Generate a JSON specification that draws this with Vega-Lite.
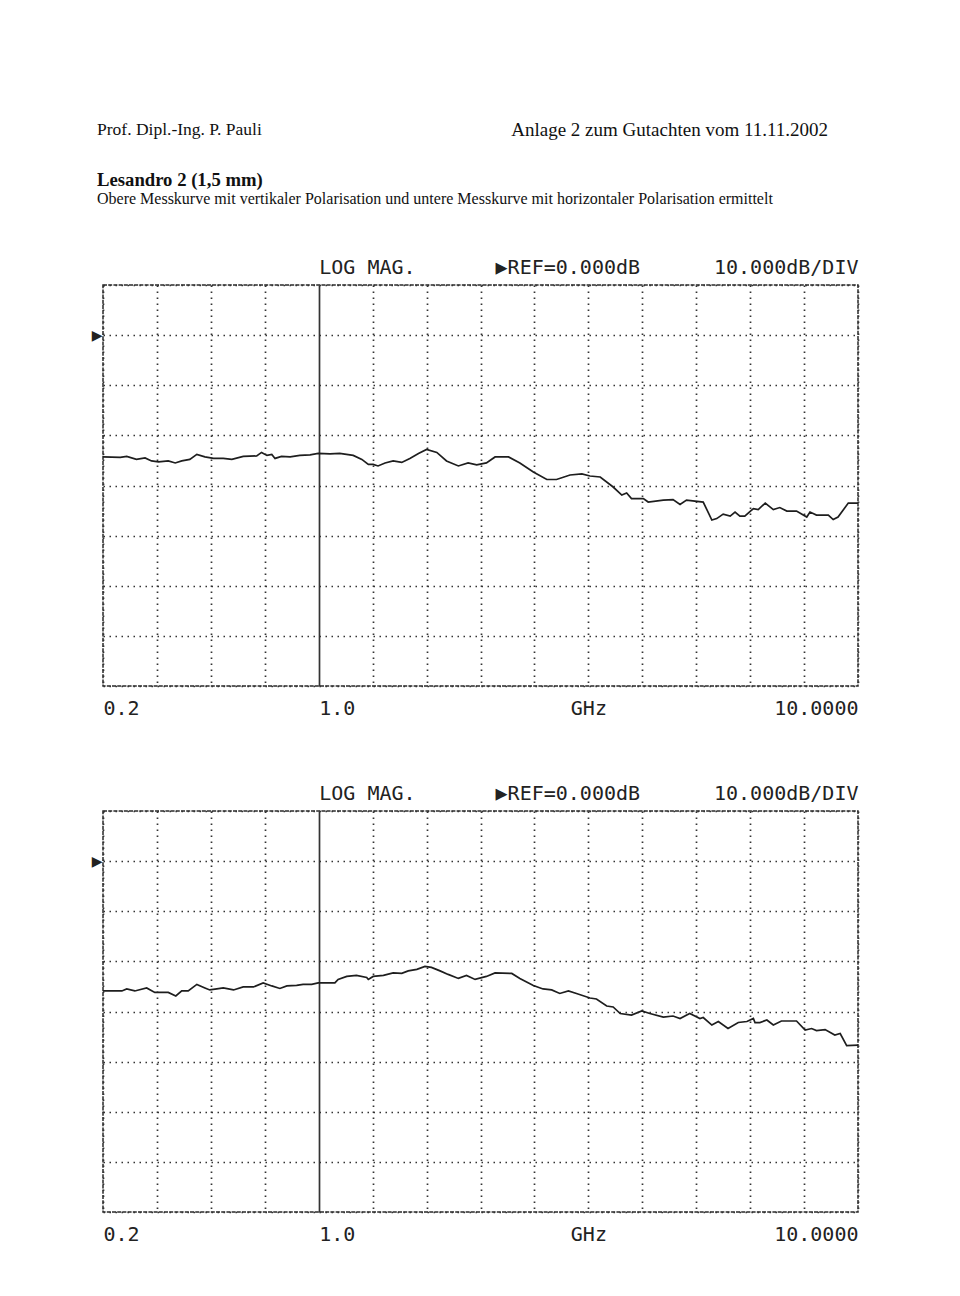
{
  "$schema": "https://vega.github.io/schema/vega-lite/v6.json",
  "background": "white",
  "padding": {"left": 90, "top": 121, "right": 0, "bottom": 0},
  "datasets": {
    "vert": [
      {"div": 0.0, "dB": -24.3}, {"div": 0.32, "dB": -24.4}, {"div": 0.44, "dB": -24.2}, {"div": 0.62, "dB": -24.8},
      {"div": 0.78, "dB": -24.5}, {"div": 0.9, "dB": -25.1}, {"div": 1.03, "dB": -25.3}, {"div": 1.21, "dB": -25.1},
      {"div": 1.34, "dB": -25.5}, {"div": 1.46, "dB": -25.1}, {"div": 1.61, "dB": -24.8}, {"div": 1.74, "dB": -23.8},
      {"div": 1.89, "dB": -24.3}, {"div": 2.05, "dB": -24.6}, {"div": 2.23, "dB": -24.6}, {"div": 2.39, "dB": -24.8},
      {"div": 2.6, "dB": -24.2}, {"div": 2.85, "dB": -24.1}, {"div": 2.94, "dB": -23.4}, {"div": 3.04, "dB": -24.0},
      {"div": 3.13, "dB": -23.8}, {"div": 3.19, "dB": -24.6}, {"div": 3.31, "dB": -24.2}, {"div": 3.47, "dB": -24.3},
      {"div": 3.65, "dB": -24.0}, {"div": 3.84, "dB": -23.9}, {"div": 3.99, "dB": -23.6}, {"div": 4.21, "dB": -23.7},
      {"div": 4.39, "dB": -23.6}, {"div": 4.64, "dB": -24.0}, {"div": 4.8, "dB": -24.8}, {"div": 4.92, "dB": -25.8},
      {"div": 5.01, "dB": -25.8}, {"div": 5.1, "dB": -26.1}, {"div": 5.23, "dB": -25.5}, {"div": 5.38, "dB": -25.1},
      {"div": 5.54, "dB": -25.4}, {"div": 5.69, "dB": -24.6}, {"div": 5.85, "dB": -23.6}, {"div": 6.0, "dB": -22.8},
      {"div": 6.19, "dB": -23.4}, {"div": 6.37, "dB": -25.1}, {"div": 6.59, "dB": -26.1}, {"div": 6.77, "dB": -25.5},
      {"div": 6.93, "dB": -25.9}, {"div": 7.11, "dB": -25.5}, {"div": 7.27, "dB": -24.3}, {"div": 7.52, "dB": -24.3},
      {"div": 7.73, "dB": -25.5}, {"div": 7.98, "dB": -27.3}, {"div": 8.23, "dB": -28.8}, {"div": 8.41, "dB": -28.8},
      {"div": 8.66, "dB": -27.9}, {"div": 8.88, "dB": -27.7}, {"div": 9.03, "dB": -28.1}, {"div": 9.22, "dB": -28.3},
      {"div": 9.46, "dB": -30.3}, {"div": 9.62, "dB": -31.9}, {"div": 9.71, "dB": -31.5}, {"div": 9.8, "dB": -32.6},
      {"div": 10.02, "dB": -32.6}, {"div": 10.11, "dB": -33.3}, {"div": 10.39, "dB": -32.9}, {"div": 10.57, "dB": -32.8},
      {"div": 10.7, "dB": -33.8}, {"div": 10.82, "dB": -32.9}, {"div": 11.13, "dB": -33.3}, {"div": 11.29, "dB": -36.9},
      {"div": 11.38, "dB": -36.6}, {"div": 11.5, "dB": -35.7}, {"div": 11.63, "dB": -36.1}, {"div": 11.72, "dB": -35.3},
      {"div": 11.81, "dB": -36.1}, {"div": 11.9, "dB": -36.1}, {"div": 12.06, "dB": -34.6}, {"div": 12.15, "dB": -34.8},
      {"div": 12.28, "dB": -33.5}, {"div": 12.43, "dB": -34.8}, {"div": 12.55, "dB": -34.4}, {"div": 12.68, "dB": -35.1},
      {"div": 12.86, "dB": -35.1}, {"div": 13.05, "dB": -36.3}, {"div": 13.11, "dB": -35.3}, {"div": 13.23, "dB": -35.9},
      {"div": 13.45, "dB": -35.9}, {"div": 13.54, "dB": -36.8}, {"div": 13.63, "dB": -36.3}, {"div": 13.82, "dB": -33.5},
      {"div": 14.0, "dB": -33.5}
    ],
    "horiz": [
      {"div": 0.0, "dB": -25.9}, {"div": 0.35, "dB": -25.9}, {"div": 0.44, "dB": -25.5}, {"div": 0.59, "dB": -25.9},
      {"div": 0.81, "dB": -25.3}, {"div": 0.96, "dB": -26.2}, {"div": 1.21, "dB": -26.2}, {"div": 1.35, "dB": -26.9},
      {"div": 1.46, "dB": -25.9}, {"div": 1.58, "dB": -25.9}, {"div": 1.74, "dB": -24.6}, {"div": 1.89, "dB": -25.3},
      {"div": 1.98, "dB": -25.7}, {"div": 2.11, "dB": -25.5}, {"div": 2.23, "dB": -25.3}, {"div": 2.42, "dB": -25.7},
      {"div": 2.6, "dB": -25.1}, {"div": 2.79, "dB": -25.1}, {"div": 2.97, "dB": -24.3}, {"div": 3.13, "dB": -24.9},
      {"div": 3.28, "dB": -25.4}, {"div": 3.41, "dB": -24.9}, {"div": 3.59, "dB": -24.8}, {"div": 3.71, "dB": -24.6},
      {"div": 3.87, "dB": -24.6}, {"div": 3.99, "dB": -24.3}, {"div": 4.3, "dB": -24.3}, {"div": 4.36, "dB": -23.6},
      {"div": 4.52, "dB": -23.0}, {"div": 4.7, "dB": -22.8}, {"div": 4.89, "dB": -23.2}, {"div": 4.92, "dB": -23.6},
      {"div": 5.01, "dB": -23.0}, {"div": 5.2, "dB": -22.8}, {"div": 5.38, "dB": -22.3}, {"div": 5.54, "dB": -22.4},
      {"div": 5.66, "dB": -21.9}, {"div": 5.82, "dB": -21.6}, {"div": 5.97, "dB": -21.0}, {"div": 6.09, "dB": -21.2},
      {"div": 6.25, "dB": -21.9}, {"div": 6.4, "dB": -22.6}, {"div": 6.59, "dB": -23.4}, {"div": 6.74, "dB": -22.8},
      {"div": 6.9, "dB": -23.6}, {"div": 7.11, "dB": -23.0}, {"div": 7.27, "dB": -22.3}, {"div": 7.58, "dB": -22.4},
      {"div": 7.73, "dB": -23.4}, {"div": 7.98, "dB": -24.8}, {"div": 8.16, "dB": -25.5}, {"div": 8.32, "dB": -25.7},
      {"div": 8.47, "dB": -26.4}, {"div": 8.63, "dB": -25.9}, {"div": 8.78, "dB": -26.4}, {"div": 9.03, "dB": -27.3},
      {"div": 9.15, "dB": -27.5}, {"div": 9.34, "dB": -28.9}, {"div": 9.46, "dB": -29.1}, {"div": 9.59, "dB": -30.4},
      {"div": 9.8, "dB": -30.7}, {"div": 9.99, "dB": -29.9}, {"div": 10.14, "dB": -30.4}, {"div": 10.39, "dB": -31.1},
      {"div": 10.57, "dB": -30.9}, {"div": 10.7, "dB": -31.4}, {"div": 10.88, "dB": -30.4}, {"div": 11.07, "dB": -31.4},
      {"div": 11.13, "dB": -31.2}, {"div": 11.29, "dB": -32.7}, {"div": 11.41, "dB": -32.0}, {"div": 11.59, "dB": -33.4},
      {"div": 11.78, "dB": -32.2}, {"div": 11.94, "dB": -32.0}, {"div": 12.06, "dB": -31.4}, {"div": 12.09, "dB": -32.2},
      {"div": 12.18, "dB": -32.2}, {"div": 12.31, "dB": -31.7}, {"div": 12.43, "dB": -32.7}, {"div": 12.58, "dB": -31.9},
      {"div": 12.86, "dB": -31.9}, {"div": 13.02, "dB": -33.7}, {"div": 13.14, "dB": -33.4}, {"div": 13.23, "dB": -33.8},
      {"div": 13.39, "dB": -33.6}, {"div": 13.57, "dB": -34.7}, {"div": 13.67, "dB": -34.4}, {"div": 13.79, "dB": -36.8},
      {"div": 14.0, "dB": -36.7}
    ]
  },
  "config": {
    "view": {"stroke": "#2a2a2a", "strokeWidth": 1.5, "strokeDash": [4, 1.2]},
    "axis": {"domain": false, "ticks": false, "title": null, "labelBound": false, "labelFlush": false, "labelOverlap": false}
  },
  "spacing": 30,
  "vconcat": [
    {
      "width": 731,
      "height": 16,
      "view": {"stroke": null},
      "data": {"values": [
        {"text": "Prof. Dipl.-Ing. P. Pauli", "side": "left"},
        {"text": "Anlage 2 zum Gutachten vom 11.11.2002", "side": "right"}
      ]},
      "mark": {"type": "text", "font": "Liberation Serif", "color": "#111", "baseline": "middle", "dx": -6,
        "fontSize": {"expr": "datum.side === 'right' ? 19 : 17.5"},
        "align": {"expr": "datum.side === 'right' ? 'right' : 'left'"}},
      "encoding": {
        "x": {"field": "side", "type": "nominal", "scale": {"type": "point", "domain": ["left", "right"], "padding": 0}, "axis": null},
        "text": {"field": "text"}
      }
    },
    {
      "spacing": 63,
      "vconcat": [
        {
          "width": 755,
          "height": 401,
          "title": {
            "text": "Lesandro 2 (1,5 mm)",
            "subtitle": "Obere Messkurve mit vertikaler Polarisation und untere Messkurve mit horizontaler Polarisation ermittelt",
            "anchor": "start", "frame": "group", "font": "Liberation Serif", "fontSize": 18.7, "fontWeight": "bold", "color": "#111",
            "subtitleFont": "Liberation Serif", "subtitleFontSize": 16, "subtitleColor": "#111", "subtitlePadding": 1,
            "dx": -6, "offset": 50
          },
          "data": {"name": "vert"},
          "layer": [
            {
              "mark": {"type": "line", "color": "#1e1e1e", "strokeWidth": 1.7},
              "encoding": {
                "x": {"field": "div", "type": "quantitative", "scale": {"domain": [0, 14], "nice": false, "zero": false},
                  "axis": {"orient": "bottom", "values": [0,1,2,3,4,5,6,7,8,9,10,11,12,13,14], "grid": true,
                    "gridColor": "#333", "gridWidth": 1.7, "gridOpacity": 1,
                    "gridDash": {"condition": {"test": "datum.value === 4", "value": []}, "value": [1.5, 4.5]},
                    "labelExpr": "datum.value === 0 ? '0.2' : datum.value === 4 ? '1.0' : datum.value === 9 ? 'GHz' : datum.value === 14 ? '10.0000' : ''",
                    "labelAlign": {"condition": [{"test": "datum.value === 14", "value": "right"}, {"test": "datum.value === 9", "value": "center"}], "value": "left"},
                    "labelFont": "DejaVu Sans Mono", "labelFontSize": 20, "labelColor": "#222", "labelPadding": 12, "labelBaseline": "top"}},
                "y": {"field": "dB", "type": "quantitative", "scale": {"domain": [-70, 10], "nice": false, "zero": false},
                  "axis": {"values": [-70,-60,-50,-40,-30,-20,-10,0,10], "grid": true,
                    "gridColor": "#333", "gridWidth": 1.7, "gridOpacity": 1, "gridDash": [1.5, 4.5],
                    "labelExpr": "datum.value === 0 ? '▶' : ''",
                    "labelFont": "DejaVu Sans", "labelFontSize": 14, "labelColor": "#222", "labelPadding": 1}}
              }
            },
            {
              "mark": {"type": "line", "opacity": 0},
              "encoding": {
                "x": {"field": "div", "type": "quantitative",
                  "axis": {"orient": "top", "values": [4, 7.27, 14], "grid": false,
                    "labelExpr": "datum.value === 4 ? 'LOG MAG.' : datum.value === 14 ? '10.000dB/DIV' : '▶REF=0.000dB'",
                    "labelAlign": {"condition": {"test": "datum.value === 14", "value": "right"}, "value": "left"},
                    "labelFont": "DejaVu Sans Mono", "labelFontSize": 20, "labelColor": "#222", "labelPadding": 12, "labelBaseline": "alphabetic"}},
                "y": {"field": "dB", "type": "quantitative"}
              }
            }
          ],
          "resolve": {"axis": {"x": "independent"}}
        },
        {
          "width": 755,
          "height": 401,
          "data": {"name": "horiz"},
          "layer": [
            {
              "mark": {"type": "line", "color": "#1e1e1e", "strokeWidth": 1.7},
              "encoding": {
                "x": {"field": "div", "type": "quantitative", "scale": {"domain": [0, 14], "nice": false, "zero": false},
                  "axis": {"orient": "bottom", "values": [0,1,2,3,4,5,6,7,8,9,10,11,12,13,14], "grid": true,
                    "gridColor": "#333", "gridWidth": 1.7, "gridOpacity": 1,
                    "gridDash": {"condition": {"test": "datum.value === 4", "value": []}, "value": [1.5, 4.5]},
                    "labelExpr": "datum.value === 0 ? '0.2' : datum.value === 4 ? '1.0' : datum.value === 9 ? 'GHz' : datum.value === 14 ? '10.0000' : ''",
                    "labelAlign": {"condition": [{"test": "datum.value === 14", "value": "right"}, {"test": "datum.value === 9", "value": "center"}], "value": "left"},
                    "labelFont": "DejaVu Sans Mono", "labelFontSize": 20, "labelColor": "#222", "labelPadding": 12, "labelBaseline": "top"}},
                "y": {"field": "dB", "type": "quantitative", "scale": {"domain": [-70, 10], "nice": false, "zero": false},
                  "axis": {"values": [-70,-60,-50,-40,-30,-20,-10,0,10], "grid": true,
                    "gridColor": "#333", "gridWidth": 1.7, "gridOpacity": 1, "gridDash": [1.5, 4.5],
                    "labelExpr": "datum.value === 0 ? '▶' : ''",
                    "labelFont": "DejaVu Sans", "labelFontSize": 14, "labelColor": "#222", "labelPadding": 1}}
              }
            },
            {
              "mark": {"type": "line", "opacity": 0},
              "encoding": {
                "x": {"field": "div", "type": "quantitative",
                  "axis": {"orient": "top", "values": [4, 7.27, 14], "grid": false,
                    "labelExpr": "datum.value === 4 ? 'LOG MAG.' : datum.value === 14 ? '10.000dB/DIV' : '▶REF=0.000dB'",
                    "labelAlign": {"condition": {"test": "datum.value === 14", "value": "right"}, "value": "left"},
                    "labelFont": "DejaVu Sans Mono", "labelFontSize": 20, "labelColor": "#222", "labelPadding": 12, "labelBaseline": "alphabetic"}},
                "y": {"field": "dB", "type": "quantitative"}
              }
            }
          ],
          "resolve": {"axis": {"x": "independent"}}
        }
      ]
    }
  ]
}
